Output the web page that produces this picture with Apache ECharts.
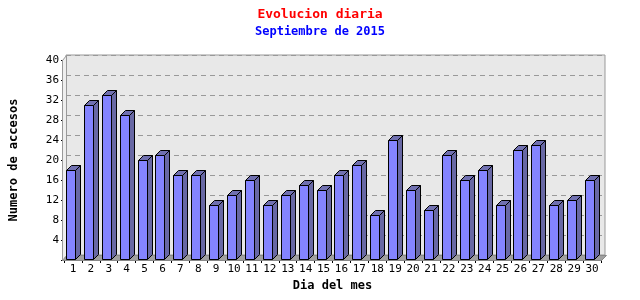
<!DOCTYPE html>
<html><head><meta charset="utf-8">
<script src="https://cdn.jsdelivr.net/npm/echarts@6/dist/echarts.min.js"></script>
<style>html,body{margin:0;padding:0;background:#fff}#c{width:640px;height:300px}</style>
</head><body><div id="c"></div>
<script>
const days = ['1','2','3','4','5','6','7','8','9','10','11','12','13','14','15','16','17','18','19','20','21','22','23','24','25','26','27','28','29','30'];
const accesos = [18,31,33,29,20,21,17,17,11,13,16,11,13,15,14,17,19,9,24,14,10,21,16,18,11,22,23,11,12,16];
const yTicks = [0,4,8,12,16,20,24,28,32,36,40];
const titleText = 'Evolucion diaria';
const subText = 'Septiembre de 2015';
const xName = 'Dia del mes';
const yName = 'Numero de accesos';

const chart = echarts.init(document.getElementById('c'), null, {renderer:'canvas'});
const mono = 'DejaVu Sans Mono';
const DX = 5, DY = 5;
chart.setOption({
  animation:false,
  backgroundColor:'#ffffff',
  title:[
    {text:titleText, left:'center', top:3, textStyle:{color:'#ff0000', fontFamily:mono, fontSize:13, fontWeight:'bold'}},
    {text:subText, left:'center', top:21, textStyle:{color:'#0000ff', fontFamily:mono, fontSize:12, fontWeight:'bold'}}
  ],
  graphic:[
    {type:'polygon', z:1, shape:{points:[[62.5,260.5],[601.5,260.5],[606.5,255.5],[67.5,255.5]]}, style:{fill:'#a0a0a0', stroke:'#888', lineWidth:1}},
    {type:'polygon', z:1, shape:{points:[[62.5,60.5],[66.5,55.5],[66.5,255.5],[62.5,260.5]]}, style:{fill:'#eeeeee', stroke:'#999', lineWidth:1}}
  ],
  grid:[
    {left:66, top:55, right:35, bottom:45, show:true, backgroundColor:'#e8e8e8', borderColor:'#999', borderWidth:1},
    {left:62, top:60, right:39, bottom:40}
  ],
  xAxis:[
    {gridIndex:0, type:'category', data:days, show:false},
    {gridIndex:1, type:'category', data:days, boundaryGap:true,
     name:xName, nameLocation:'middle', nameGap:16,
     nameTextStyle:{fontFamily:mono, fontSize:12, fontWeight:'bold', color:'#000'},
     axisLine:{lineStyle:{color:'#000'}},
     axisTick:{show:true, alignWithLabel:false, length:3, lineStyle:{color:'#000'}},
     axisLabel:{interval:0, fontFamily:mono, fontSize:11, color:'#000', margin:4},
     splitLine:{show:false}}
  ],
  yAxis:[
    {gridIndex:0, type:'value', min:0, max:40, interval:4,
     axisLine:{show:false}, axisTick:{show:false}, axisLabel:{show:false},
     splitLine:{show:true, lineStyle:{color:'#999', type:[5,4], width:1}}},
    {gridIndex:1, type:'value', min:0, max:40, interval:4,
     name:yName, nameLocation:'middle', nameGap:44,
     nameTextStyle:{fontFamily:mono, fontSize:12, fontWeight:'bold', color:'#000'},
     axisLine:{show:true, lineStyle:{color:'#000'}},
     axisTick:{show:true, length:3, lineStyle:{color:'#000'}},
     axisLabel:{fontFamily:mono, fontSize:11, color:'#000', margin:5,
       formatter:function(v){return v===0?'':String(v);}},
     splitLine:{show:false}}
  ],
  series:[{
    type:'custom', xAxisIndex:1, yAxisIndex:1, z:5, clip:false,
    data: accesos.map((v,i)=>[i,v]),
    renderItem:function(params, api){
      const i = api.value(0), v = api.value(1);
      const base = api.coord([i,0]);
      const top = api.coord([i,v]);
      const w = 9;
      const x0 = Math.round(base[0]-7)+0.5, x1 = x0+w;
      const y0 = Math.round(top[1])+0.5, yb = Math.round(base[1])-0.5;
      const stroke = {stroke:'#000', lineWidth:1};
      return {type:'group', children:[
        {type:'polygon', shape:{points:[[x1,y0],[x1+DX,y0-DY],[x1+DX,yb-DY],[x1,yb]]}, style:Object.assign({fill:'#6868a4'},stroke)},
        {type:'polygon', shape:{points:[[x0,y0],[x0+DX,y0-DY],[x1+DX,y0-DY],[x1,y0]]}, style:Object.assign({fill:'#7070b0'},stroke)},
        {type:'rect', shape:{x:x0, y:y0, width:w, height:yb-y0}, style:Object.assign({fill:'#8484ff'},stroke)}
      ]};
    }
  }]
});
</script></body></html>
